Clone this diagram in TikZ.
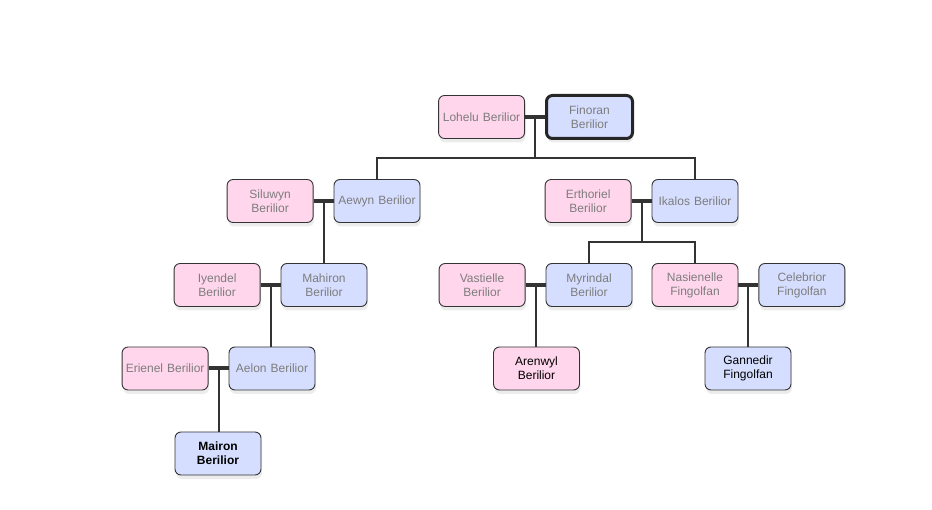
\documentclass[tikz,border=0pt]{standalone}
\usepackage{fontspec}
\setmainfont{Liberation Sans}
\usetikzlibrary{positioning,calc,shadows}
\definecolor{famblue}{RGB}{214,222,255}
\definecolor{fampink}{RGB}{255,214,236}
\definecolor{famline}{RGB}{51,51,51}
\definecolor{famtext}{RGB}{125,125,125}
\tikzset{
  fam/.style={font=\fontsize{12}{14}\selectfont},
  person/.style={draw=famline,line width=0.9pt,rounded corners=6pt,
                 minimum width=86pt,minimum height=43pt,text width=82pt,
                 align=center,inner sep=1pt,text=famtext,
                 drop shadow={opacity=0.15,shadow xshift=1pt,shadow yshift=-4pt}},
  he/.style={person,fill=famblue},
  she/.style={person,fill=fampink},
  wed/.style={line width=4pt,famline},
  kid/.style={line width=2pt,famline},
}

\begin{document}
\begin{tikzpicture}[fam,x=1pt,y=-1pt]
\useasboundingbox (0,0) rectangle (932,510);

% generation 1
\node[he,line width=3pt,draw=black!85] (finoran) at (589.5,117) {Finoran\\Berilior};
\node[she,left=20pt of finoran] (lohelu) {Lohelu Berilior};

% generation 2
\node[he] (aewyn) at (377,201) {Aewyn Berilior};
\node[she,left=20pt of aewyn] (siluwyn) {Siluwyn\\Berilior};
\node[he] (ikalos) at (695,201) {Ikalos Berilior};
\node[she,left=20pt of ikalos] (erthoriel) {Erthoriel\\Berilior};

% generation 3
\node[he] (mahiron) at (324,285) {Mahiron\\Berilior};
\node[she,left=20pt of mahiron] (iyendel) {Iyendel\\Berilior};
\node[he] (myrindal) at (589,285) {Myrindal\\Berilior};
\node[she,left=20pt of myrindal] (vastielle) {Vastielle\\Berilior};
\node[she] (nasienelle) at (695,285) {Nasienelle\\Fingolfan};
\node[he,right=20pt of nasienelle] (celebrior) {Celebrior\\Fingolfan};

% generation 4
\node[he] (aelon) at (272,368.5) {Aelon Berilior};
\node[she,left=20pt of aelon] (erienel) {Erienel Berilior};
\node[she,text=black] (arenwyl) at (536.5,368.5) {Arenwyl\\Berilior};
\node[he,text=black] (gannedir) at (748,368.5) {Gannedir\\Fingolfan};

% generation 5
\node[he,text=black,font=\fontsize{12}{14}\selectfont\bfseries] (mairon) at (218,453.5) {Mairon\\Berilior};

% couples
\draw[wed] (lohelu) -- (finoran);
\draw[wed] (siluwyn) -- (aewyn);
\draw[wed] (erthoriel) -- (ikalos);
\draw[wed] (iyendel) -- (mahiron);
\draw[wed] (vastielle) -- (myrindal);
\draw[wed] (nasienelle) -- (celebrior);
\draw[wed] (erienel) -- (aelon);

\coordinate (m1) at ($(lohelu.east)!0.5!(finoran.west)$);
\coordinate (m2) at ($(siluwyn.east)!0.5!(aewyn.west)$);
\coordinate (m3) at ($(erthoriel.east)!0.5!(ikalos.west)$);
\coordinate (m4) at ($(iyendel.east)!0.5!(mahiron.west)$);
\coordinate (m5) at ($(vastielle.east)!0.5!(myrindal.west)$);
\coordinate (m6) at ($(nasienelle.east)!0.5!(celebrior.west)$);
\coordinate (m7) at ($(erienel.east)!0.5!(aelon.west)$);

% children
\coordinate (f1) at ($(m1)+(0,41)$);
\coordinate (f3) at ($(m3)+(0,41)$);
\draw[kid] (m1) -- (f1);
\draw[kid] (aewyn.north) |- (f1) -| (ikalos.north);
\draw[kid] (m3) -- (f3);
\draw[kid] (myrindal.north) |- (f3) -| (nasienelle.north);
\draw[kid] (m2) -- (m2 |- mahiron.north);
\draw[kid] (m4) -- (m4 |- aelon.north);
\draw[kid] (m5) -- (m5 |- arenwyl.north);
\draw[kid] (m6) -- (m6 |- gannedir.north);
\draw[kid] (m7) -- (m7 |- mairon.north);

\end{tikzpicture}
\end{document}
